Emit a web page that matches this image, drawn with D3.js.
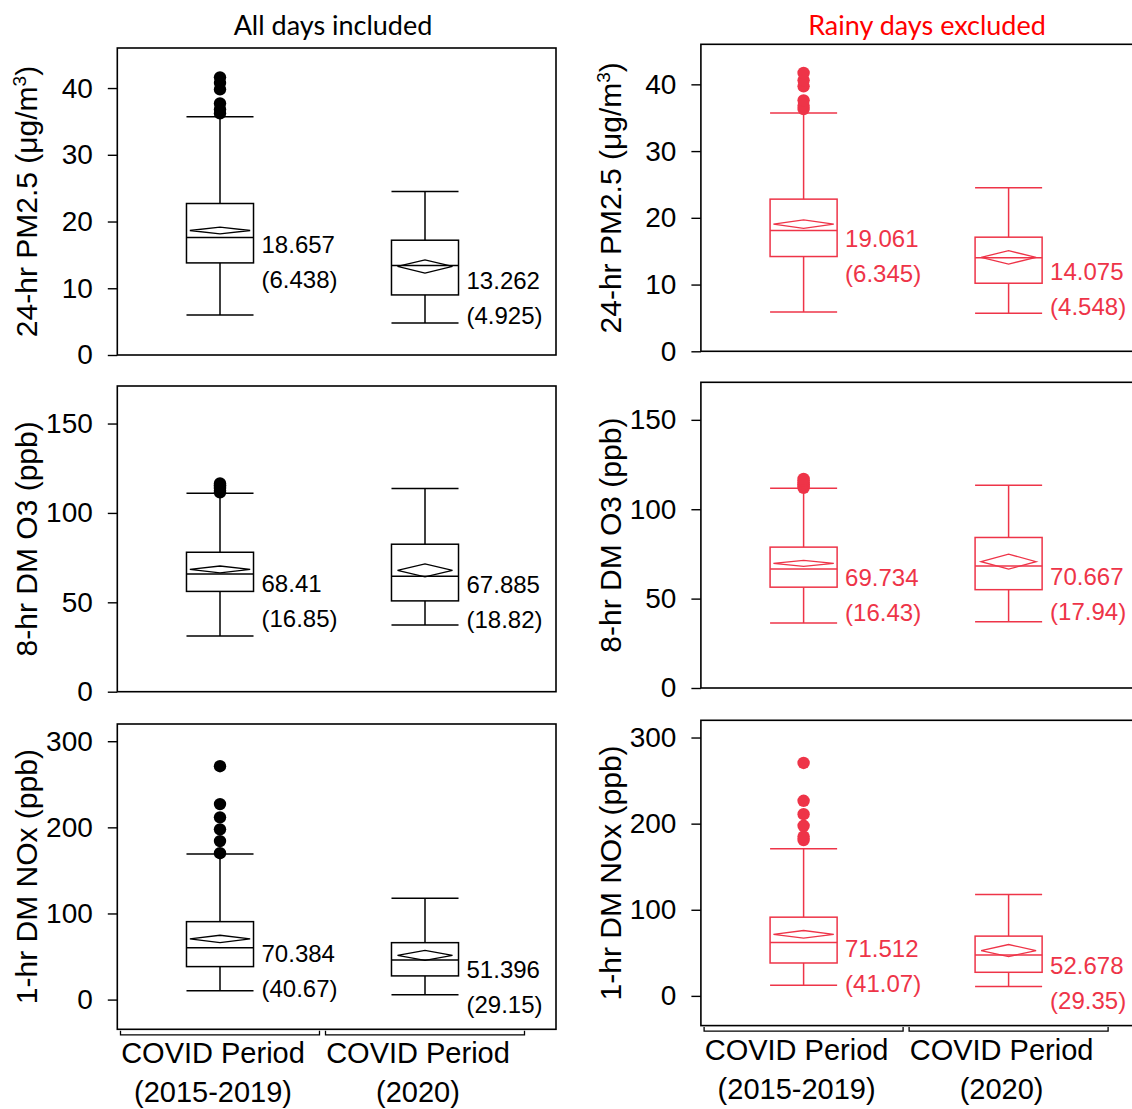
<!DOCTYPE html>
<html>
<head>
<meta charset="utf-8">
<script src="https://cdn.jsdelivr.net/npm/d3@7"></script>
<style>
  html, body { margin: 0; padding: 0; background: #fff; }
  svg { display: block; }
</style>
</head>
<body>
<svg id="chart" width="1132" height="1109"></svg>
<script>
// ---- data ----
const categories = ["COVID Period (2015-2019)", "COVID Period (2020)"];
const categoryLines = [["COVID Period", "(2015-2019)"], ["COVID Period", "(2020)"]];
const columnTitles = ["All days included", "Rainy days excluded"];
const measureLabels = [
  ["24-hr PM2.5 (\u03bcg/m", "3", ")"],
  ["8-hr DM O3 (ppb)", "", ""],
  ["1-hr DM NOx (ppb)", "", ""]
];
const yTicks = [[0, 10, 20, 30, 40], [0, 50, 100, 150], [0, 100, 200, 300]];
const yDomains = [[0, 46], [0, 171], [-34.5, 320]];

// box stats per measure per period: [lower whisker, Q1, median, Q3, upper whisker]
const allDaysBoxes = [
  [[6.0, 13.8, 17.6, 22.7, 35.7], [4.8, 9.0, 13.4, 17.2, 24.5]],
  [[31.1, 56.1, 65.8, 78.0, 111.0], [37.3, 50.8, 64.6, 82.5, 113.6]],
  [[10.4, 38.3, 60.3, 90.5, 169.0], [5.5, 27.5, 46.0, 66.1, 117.6]]
];
const allDaysMeans = [[18.657, 13.262], [68.41, 67.885], [70.384, 51.396]];
const allDaysSD = [["6.438", "4.925"], ["16.85", "18.82"], ["40.67", "29.15"]];
const allDaysCI = [[0.5, 1.0], [1.9, 3.6], [4.3, 5.8]];
const allDaysOutliers = [
  [[36.2, 36.8, 37.7, 39.8, 40.75, 41.6], []],
  [[111.5, 112.5, 113.5, 114.5, 115.5, 116.5], []],
  [[170, 184, 197.7, 211.6, 227, 271], []]
];

const rainyBoxes = [
  [[5.9, 14.2, 18.1, 22.8, 35.7], [5.7, 10.2, 14.0, 17.1, 24.5]],
  [[36.3, 56.4, 66.5, 78.8, 111.7], [37.1, 55.0, 68.2, 84.2, 113.4]],
  [[12.4, 38.2, 62.1, 91.4, 170.9], [10.8, 27.4, 47.4, 69.4, 117.7]]
];
const rainyMeans = [[19.061, 14.075], [69.734, 70.667], [71.512, 52.678]];
const rainySD = [["6.345", "4.548"], ["16.43", "17.94"], ["41.07", "29.35"]];
const rainyCI = [[0.63, 1.0], [1.7, 4.2], [4.4, 7.0]];
const rainyOutliers = [
  [[36.3, 36.8, 37.6, 39.7, 40.6, 41.7], []],
  [[112, 113, 114, 115, 116, 117], []],
  [[181, 185, 197.5, 211, 226.5, 270.5], []]
];

// ---- layout ----
const SANS = "'Liberation Sans', Arial, Helvetica, sans-serif";
const svg = d3.select("#chart");
const columns = [
  { dx: 0,     dy: 0,    titleX: 333, color: "#000000", titleColor: "#000000",
    boxes: allDaysBoxes, means: allDaysMeans, sd: allDaysSD, ci: allDaysCI, outliers: allDaysOutliers },
  { dx: 583.6, dy: -3.7, titleX: 927, color: "#ee3448", titleColor: "#ff0000",
    boxes: rainyBoxes, means: rainyMeans, sd: rainySD, ci: rainyCI, outliers: rainyOutliers }
];
const frameLeft = 117.3, frameRight = 556;
const rowFrames = [[48, 355], [386, 691.7], [724, 1029.3]];
const diamondFrac = [0.9, 0.82];   // mean diamond width relative to the box (group size)

columns.forEach((col, ci) => {
  // column heading
  svg.append("text")
    .attr("x", col.titleX).attr("y", 35)
    .attr("text-anchor", "middle")
    .style("font-family", "Lato, 'Open Sans', sans-serif")
    .style("font-size", "27px")
    .attr("fill", col.titleColor)
    .text(columnTitles[ci]);

  const g = svg.append("g").attr("transform", `translate(${col.dx},${col.dy})`);
  const x = d3.scaleBand().domain(categories).range([117.5, 527.5]);
  const boxW = x.step() * 0.327;

  rowFrames.forEach(([top, bottom], ri) => {
    const y = d3.scaleLinear().domain(yDomains[ri]).range([bottom, top]);
    const p = g.append("g");

    // frame
    p.append("rect")
      .attr("x", frameLeft).attr("y", top)
      .attr("width", frameRight - frameLeft).attr("height", bottom - top)
      .attr("fill", "none").attr("stroke", "#000").attr("stroke-width", 1.6);

    // y axis
    const ax = p.append("g")
      .attr("transform", `translate(${frameLeft},0)`)
      .call(d3.axisLeft(y).tickValues(yTicks[ri]).tickSize(9.5).tickPadding(15).tickFormat(d3.format("d")));
    ax.select(".domain").remove();
    ax.selectAll(".tick line").attr("stroke", "#000").attr("stroke-width", 1.4);
    ax.selectAll(".tick text")
      .style("font-family", SANS)
      .style("font-size", "28px").attr("fill", "#000");

    // y title
    const [t0, sup, t1] = measureLabels[ri];
    const yt = p.append("text")
      .attr("transform", `translate(37,${(top + bottom) / 2}) rotate(-90)`)
      .attr("text-anchor", "middle")
      .style("font-family", SANS)
      .style("font-size", "30px").attr("fill", "#000");
    yt.append("tspan").text(t0);
    if (sup) {
      yt.append("tspan").attr("dy", -11).style("font-size", "19px").text(sup);
      yt.append("tspan").attr("dy", 11).text(t1);
    }

    // boxes
    categories.forEach((cat, k) => {
      const [lo, q1, med, q3, hi] = col.boxes[ri][k];
      const cx = x(cat) + x.bandwidth() / 2;
      const b = p.append("g").attr("stroke", col.color).attr("stroke-width", 1.5).attr("fill", "none");

      b.append("line").attr("x1", cx).attr("x2", cx).attr("y1", y(q3)).attr("y2", y(hi));
      b.append("line").attr("x1", cx).attr("x2", cx).attr("y1", y(q1)).attr("y2", y(lo));
      b.append("line").attr("x1", cx - boxW / 2).attr("x2", cx + boxW / 2).attr("y1", y(hi)).attr("y2", y(hi));
      b.append("line").attr("x1", cx - boxW / 2).attr("x2", cx + boxW / 2).attr("y1", y(lo)).attr("y2", y(lo));
      b.append("rect").attr("x", cx - boxW / 2).attr("y", y(q3))
        .attr("width", boxW).attr("height", y(q1) - y(q3));
      b.append("line").attr("x1", cx - boxW / 2).attr("x2", cx + boxW / 2).attr("y1", y(med)).attr("y2", y(med));

      // mean diamond
      const m = col.means[ri][k], h = col.ci[ri][k];
      const dw = boxW * diamondFrac[k] / 2;
      b.append("path")
        .attr("d", `M${cx - dw},${y(m)} L${cx},${y(m + h)} L${cx + dw},${y(m)} L${cx},${y(m - h)} Z`)
        .attr("stroke-width", 1.3);

      // outliers
      p.selectAll(null).data(col.outliers[ri][k]).join("circle")
        .attr("cx", cx).attr("cy", d => y(d)).attr("r", 6.2)
        .attr("fill", col.color);

      // mean and SD labels
      const lx = cx + boxW / 2 + 8;
      p.append("text").attr("x", lx).attr("y", y(m) + 23)
        .style("font-family", SANS)
        .style("font-size", "24px").attr("fill", col.color).text(String(m));
      p.append("text").attr("x", lx).attr("y", y(m) + 58)
        .style("font-family", SANS)
        .style("font-size", "24px").attr("fill", col.color).text(`(${col.sd[ri][k]})`);
    });

    // category brackets and labels under the bottom row
    if (ri === rowFrames.length - 1) {
      categories.forEach((cat, k) => {
        const x0 = x(cat) + 3, x1 = x(cat) + x.step() - 3;
        p.append("path")
          .attr("d", `M${x0},${bottom + 1.5} V${bottom + 5.5} H${x1} V${bottom + 1.5}`)
          .attr("fill", "none").attr("stroke", "#000").attr("stroke-width", 1.3);
        const cx = x(cat) + x.bandwidth() / 2 - 7;
        categoryLines[k].forEach((line, li) => {
          p.append("text").attr("x", cx).attr("y", bottom + 34 + li * 39)
            .attr("text-anchor", "middle")
            .style("font-family", SANS)
            .style("font-size", "29px").attr("fill", "#000").text(line);
        });
      });
    }
  });
});
</script>
</body>
</html>
